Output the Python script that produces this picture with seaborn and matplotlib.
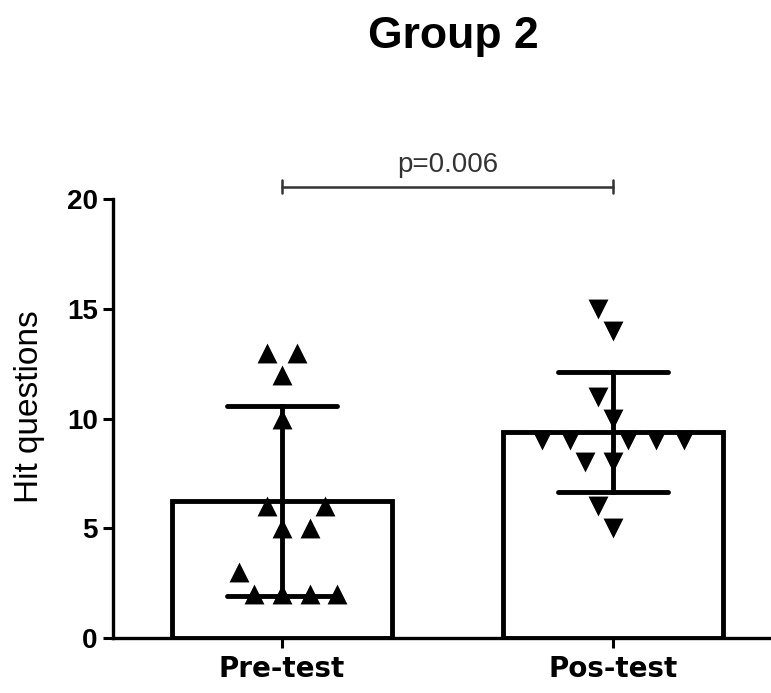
import numpy as np
import pandas as pd
import matplotlib
matplotlib.use("Agg")
import matplotlib.pyplot as plt
import seaborn as sns

# ---- data ----
title = "Group 2"
categories = ["Pre-test", "Pos-test"]
pre_test = [13, 13, 12, 10, 6, 6, 5, 5, 3, 2, 2, 2, 2]
pos_test = [15, 14, 11, 10, 9, 9, 9, 9, 9, 8, 8, 6, 5]
y_label = "Hit questions"
y_ticks = [0, 5, 10, 15, 20]
p_text = "p=0.006"

sns.set_theme(style="ticks")
plt.rcParams["font.family"] = ["Liberation Sans", "DejaVu Sans"]

df = pd.DataFrame({
    "group": [categories[0]] * len(pre_test) + [categories[1]] * len(pos_test),
    "value": pre_test + pos_test,
})

fig = plt.figure(figsize=(7.71, 6.93), dpi=100)
ax = fig.add_axes([0.1466, 0.0794, 1 - 0.1466, 0.7128 - 0.0794])

sns.barplot(data=df, x="group", y="value", order=categories, errorbar="sd",
            capsize=0.33, width=0.665, color="white", saturation=1,
            edgecolor="black", linewidth=3.5,
            err_kws={"color": "black", "linewidth": 3.5, "zorder": 4}, ax=ax)

markers = ["^", "v"]
for cat, vals, mk in zip(categories, [pre_test, pos_test], markers):
    sub = pd.DataFrame({"group": [cat] * len(vals), "value": vals})
    sns.swarmplot(data=sub, x="group", y="value", order=categories, marker=mk,
                  color="black", size=19, linewidth=0, ax=ax, zorder=3)

ax.set_xlim(-0.51, 1.477)
ax.set_ylim(0, 20)
ax.set_autoscale_on(False)

# lay out the swarm with wide spacing, then shrink the markers
fig.canvas.draw()
for coll in ax.collections:
    if "draw" in coll.__dict__:
        del coll.draw
        coll.set_sizes([205])

ax.set_xlim(-0.51, 1.477)
ax.set_ylim(0, 20)
ax.set_yticks(y_ticks)
sns.despine(ax=ax)
ax.spines["left"].set_bounds(0, 20)
for s in ["left", "bottom"]:
    ax.spines[s].set_linewidth(2.4)
    ax.spines[s].set_color("black")

ax.set_xlabel("")
ax.set_ylabel("")
ax.tick_params(axis="both", width=2.2, length=7, color="black", labelcolor="black")
ax.tick_params(axis="y", labelsize=20, pad=4)
ax.tick_params(axis="x", labelsize=20, pad=5)
for lab in ax.get_yticklabels():
    lab.set_fontweight("bold")
for lab in ax.get_xticklabels():
    lab.set_fontweight("bold")
    lab.set_family("DejaVu Sans")

# significance bracket
yb = 20.56
ax.plot([0, 1], [yb, yb], color="#333333", lw=1.8, clip_on=False)
for xe in [0, 1]:
    ax.plot([xe, xe], [yb - 0.3, yb + 0.3], color="#333333", lw=1.8, clip_on=False)
ax.text(0.5, 21.25, p_text, ha="center", va="baseline", fontsize=20,
        color="#333333", clip_on=False)

fig.text(30 / 771, 1 - 407 / 693, y_label, rotation=90, ha="center", va="center",
         fontsize=24, color="black")
fig.text(453 / 771, 1 - 48 / 693, title, ha="center", va="baseline",
         fontsize=32, fontweight="bold", color="black")

fig.savefig("out.png", dpi=100, facecolor="white")
